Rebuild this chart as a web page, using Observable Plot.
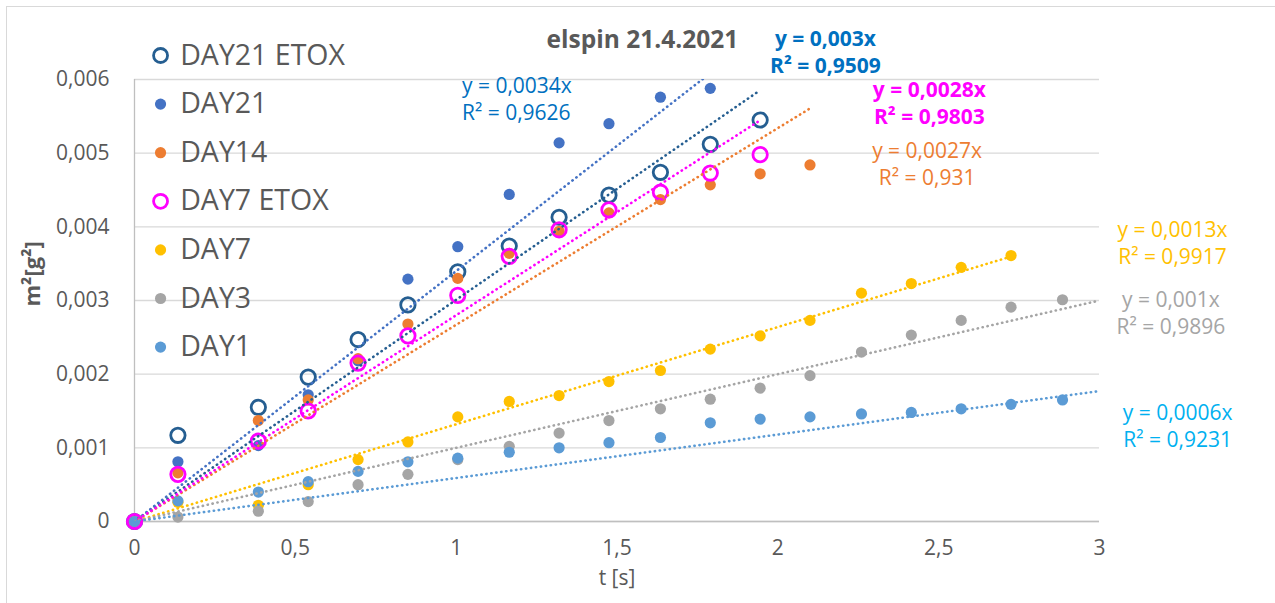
<!DOCTYPE html>
<html><head><meta charset="utf-8">
<script src="https://cdn.jsdelivr.net/npm/d3@7"></script>
<script src="https://cdn.jsdelivr.net/npm/@observablehq/plot@0.6"></script>
<style>
html,body{margin:0;padding:0;background:#fff;}
#chart{position:relative;width:1275px;height:603px;overflow:hidden;font-family:"Open Sans",sans-serif;}
#frame{position:absolute;left:6px;top:6px;width:1400px;height:800px;border:1.5px solid #d9d9d9;pointer-events:none;}
</style></head><body><div id="chart"><div id="frame"></div></div>
<script>
// time values t [s]
const t = [0, 0.135, 0.385, 0.54, 0.695, 0.85, 1.005, 1.165, 1.32, 1.475, 1.635, 1.79, 1.945, 2.1, 2.26, 2.415, 2.57, 2.725, 2.885];

// series values m^2 [g^2]
const day21etox = [0, 0.00117, 0.00155, 0.00196, 0.00247, 0.00294, 0.00339, 0.00374, 0.00413, 0.00443, 0.00474, 0.00512, 0.00545];
const day21 = [0, 0.00081, 0.00103, 0.00172, 0.00218, 0.00329, 0.00373, 0.00444, 0.00514, 0.00540, 0.00576, 0.00588];
const day14 = [0, 0.00066, 0.00137, 0.00165, 0.00221, 0.00268, 0.00330, 0.00364, 0.00394, 0.00419, 0.00437, 0.00457, 0.00472, 0.00484];
const day7etox = [0, 0.00064, 0.00109, 0.00150, 0.00215, 0.00252, 0.00307, 0.00360, 0.00396, 0.00423, 0.00447, 0.00473, 0.00498];
const day7 = [0, 0.00026, 0.00022, 0.00050, 0.00084, 0.00108, 0.00142, 0.00163, 0.00171, 0.00190, 0.00205, 0.00234, 0.00252, 0.00273, 0.00310, 0.00323, 0.00345, 0.00361];
const day3 = [0, 0.00006, 0.00014, 0.00027, 0.00050, 0.00064, 0.00084, 0.00102, 0.00120, 0.00137, 0.00153, 0.00166, 0.00181, 0.00198, 0.00230, 0.00253, 0.00273, 0.00291, 0.00301];
const day1 = [0, 0.00028, 0.00040, 0.00054, 0.00068, 0.00081, 0.00086, 0.00094, 0.00100, 0.00107, 0.00114, 0.00134, 0.00139, 0.00142, 0.00146, 0.00148, 0.00153, 0.00159, 0.00165];

const seriesNames = ["DAY21 ETOX", "DAY21", "DAY14", "DAY7 ETOX", "DAY7", "DAY3", "DAY1"];
const seriesValues = [day21etox, day21, day14, day7etox, day7, day3, day1];
// linear trendlines through origin (slope read from the drawn trendlines) and their extent
const trendSlope = [0.00301, 0.0034, 0.00267, 0.0028, 0.00132, 0.001, 0.00059];
const trendEnd = [1.945, 1.79, 2.1, 1.945, 2.725, 3, 3];

// trendline equation labels
const eqText = ["y = 0,003x", "y = 0,0034x", "y = 0,0027x", "y = 0,0028x", "y = 0,0013x", "y = 0,001x", "y = 0,0006x"];
const r2Text = ["R² = 0,9509", "R² = 0,9626", "R² = 0,931", "R² = 0,9803", "R² = 0,9917", "R² = 0,9896", "R² = 0,9231"];

const chartTitle = "elspin 21.4.2021";
const xTicks = [0, 0.5, 1, 1.5, 2, 2.5, 3];
const yTicks = [0, 0.001, 0.002, 0.003, 0.004, 0.005, 0.006];

// styles
const seriesColors = ["#255E91", "#4472C4", "#ED7D31", "#FF00FF", "#FFC000", "#A5A5A5", "#5B9BD5"];
const seriesOpen = [true, false, false, true, false, false, false];
const eqColors = ["#0070C0", "#0070C0", "#ED7D31", "#FF00FF", "#FFC000", "#A5A5A5", "#00B0F0"];
const eqBold = [true, false, false, true, false, false, false];
// label positions in data units
const eqPosX = [2.148, 1.018, 2.464, 2.471, 3.227, 3.222, 3.243];
const eqPosY = [0.006387, 0.005749, 0.004873, 0.005694, 0.003794, 0.002851, 0.001317];
const eqAnchor = ["middle", "start", "middle", "middle", "middle", "middle", "middle"];

const FONT = "Open Sans";
const fmtComma = d => d === 0 ? "0" : String(+d.toFixed(4)).replace(".", ",");

const marks = [];
marks.push(Plot.gridY(yTicks, {stroke: "#d9d9d9", strokeOpacity: 1, strokeWidth: 1.3}));
marks.push(Plot.ruleY([0], {stroke: "#bfbfbf", strokeWidth: 1.3}));
marks.push(Plot.ruleX([0], {y1: 0, y2: 0.006, stroke: "#bfbfbf", strokeWidth: 1.3}));
marks.push(Plot.axisY(yTicks, {tickSize: 0, tickPadding: 25, tickFormat: d => d === 0 ? "0" : d.toFixed(3).replace(".", ","), fontSize: 21, fill: "#595959", label: null}));
marks.push(Plot.axisX(xTicks, {tickSize: 0, tickPadding: 19, tickFormat: fmtComma, fontSize: 21, fill: "#595959", label: null}));

// dots
const drawOrder = [0, 1, 2, 4, 5, 6, 3];
for (const i of drawOrder) {
  const rows = seriesValues[i].map((v, j) => ({t: t[j], v}));
  if (seriesOpen[i]) {
    marks.push(Plot.dot(rows, {x: "t", y: "v", r: 7.2, stroke: seriesColors[i], strokeWidth: 2.8, fill: "none"}));
  } else {
    marks.push(Plot.dot(rows, {x: "t", y: "v", r: 5.6, fill: seriesColors[i], stroke: "none"}));
  }
}
// trendlines (round-dot style)
for (let i = 0; i < seriesNames.length; i++) {
  const end = trendEnd[i];
  const pts = [{t: 0, v: 0}, {t: end, v: trendSlope[i] * end}];
  marks.push(Plot.line(pts, {x: "t", y: "v", stroke: seriesColors[i], strokeWidth: 2.6, strokeDasharray: "0.3,4.7", strokeLinecap: "round", clip: true}));
}
// equation labels
for (let i = 0; i < seriesNames.length; i++) {
  marks.push(Plot.text([0], {x: () => eqPosX[i], y: () => eqPosY[i], text: () => eqText[i] + "\n" + r2Text[i],
    fill: eqColors[i], fontSize: 21, fontWeight: eqBold[i] ? "bold" : "normal", textAnchor: eqAnchor[i],
    lineAnchor: "middle", lineHeight: 1.28, fontFamily: FONT}));
}
// title
marks.push(Plot.text([chartTitle], {x: () => 1.579, y: () => 0.006529, text: d => d, fill: "#595959", fontSize: 24.5, fontWeight: "bold", fontFamily: FONT}));
// legend
const legRows = seriesNames.map((name, i) => ({name, i, lx: 0.081, tx: 0.142, ly: (521 - (55 + 48.6 * i)) / 73.667 * 0.001}));
for (const row of legRows) {
  const i = row.i;
  if (seriesOpen[i]) marks.push(Plot.dot([row], {x: "lx", y: "ly", r: 7, stroke: seriesColors[i], strokeWidth: 2.8, fill: "none"}));
  else marks.push(Plot.dot([row], {x: "lx", y: "ly", r: 5.6, fill: seriesColors[i]}));
}
marks.push(Plot.text(legRows, {x: "tx", y: "ly", text: "name", textAnchor: "start", fontSize: 28.5, fill: "#595959", fontFamily: FONT}));
// axis titles
marks.push(Plot.text(["t [s]"], {frameAnchor: "bottom", dy: 63, text: d => d, fontSize: 21, fill: "#595959", fontFamily: FONT}));
marks.push(Plot.text(["m²[g²]"], {frameAnchor: "left", dx: -102, dy: 6, rotate: -90, text: d => d, fontSize: 22, fontWeight: "bold", fill: "#595959", fontFamily: FONT}));

const chart = Plot.plot({
  width: 1275, height: 603,
  marginLeft: 134, marginRight: 176, marginTop: 79, marginBottom: 82,
  x: {domain: [0, 3]},
  y: {domain: [0, 0.006]},
  style: {fontFamily: FONT, background: "transparent", overflow: "visible"},
  marks
});
document.getElementById("chart").prepend(chart);
</script>
</body></html>
